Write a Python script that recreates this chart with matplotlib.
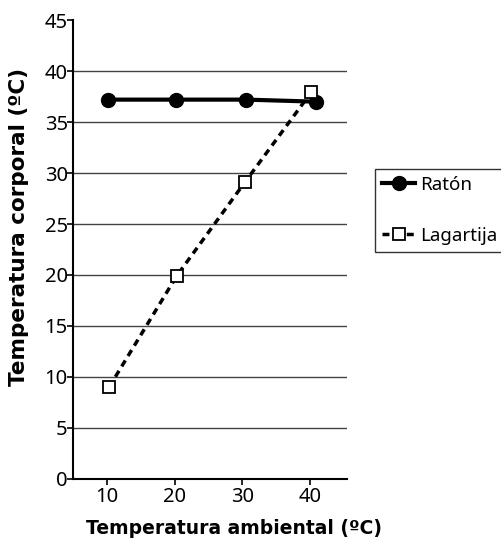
import matplotlib.pyplot as plt

plt.rcParams['font.family'] = ['Noto Sans', 'DejaVu Sans']

# values
raton_x = [10.2, 20.2, 30.6, 40.9]
raton_y = [37.2, 37.2, 37.2, 37.0]
lagartija_x = [10.3, 20.3, 30.4, 40.2]
lagartija_y = [9.0, 19.9, 29.1, 37.9]
x_ticks = [10, 20, 30, 40]
y_ticks = [0, 5, 10, 15, 20, 25, 30, 35, 40, 45]

fig = plt.figure(figsize=(5.02, 5.43), dpi=100)
ax = fig.add_axes([0.146, 0.118, 0.545, 0.845])

ax.set_xlim(5, 45.5)
ax.set_ylim(0, 45)

# horizontal grid lines (not at 0 or 45)
ax.hlines(y_ticks[1:-1], 5, 45.5, colors='#444444', linewidth=1, zorder=1)

ax.plot(raton_x, raton_y, color='black', linewidth=3, marker='o',
        markersize=10, label='Ratón', zorder=3)
ax.plot(lagartija_x, lagartija_y, color='black', linewidth=2.5, linestyle=(0, (2, 1.5)),
        marker='s', markersize=8, markerfacecolor='white', markeredgecolor='black',
        markeredgewidth=1.3, label='Lagartija', zorder=4)

ax.set_xticks(x_ticks)
ax.set_yticks(y_ticks)
ax.tick_params(labelsize=14.5, length=4, width=1.2, colors='black')
ax.tick_params(axis='y', pad=0)
ax.tick_params(axis='x', pad=2)

for side in ['top', 'right']:
    ax.spines[side].set_visible(False)
for side in ['left', 'bottom']:
    ax.spines[side].set_linewidth(1.5)

fig.text(0.466, 0.027, 'Temperatura ambiental (ºC)', fontsize=13.5, fontweight='bold',
         family='DejaVu Sans', ha='center', va='center')
fig.text(0.037, 0.582, 'Temperatura corporal (ºC)', fontsize=15.5, fontweight='bold',
         family='DejaVu Sans', rotation=90, ha='center', va='center')

leg = fig.legend(loc='upper left', bbox_to_anchor=(0.747, 0.689), fontsize=13.5,
                 frameon=True, fancybox=False, edgecolor='black', handlelength=1.75,
                 handletextpad=0.3, labelspacing=1.75, borderpad=0.38, borderaxespad=0)
leg.get_frame().set_linewidth(1)

fig.savefig('out.png', dpi=100)
